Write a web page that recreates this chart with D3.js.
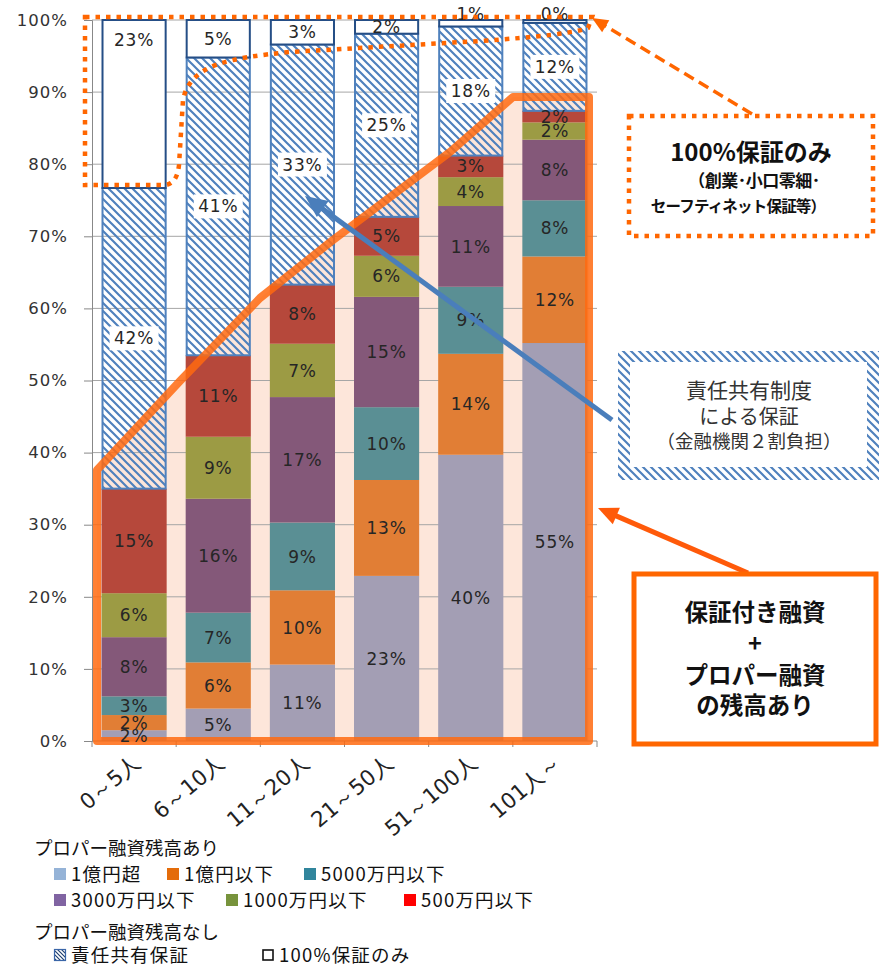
<!DOCTYPE html>
<html><head><meta charset="utf-8">
<script src="https://cdn.jsdelivr.net/npm/d3@7"></script>
<style>body{margin:0;background:#fff} svg{display:block}</style>
</head><body>
<svg id="c" width="879" height="967"></svg>
<script>
// ---------------- data ----------------
const categories = ["0～5人","6～10人","11～20人","21～50人","51～100人","101人～"];
const over100m        = [1.5, 4.5, 10.6, 22.9, 39.7, 55.2];   // 1億円超
const under100m       = [2.1, 6.4, 10.3, 13.3, 14.0, 12.0];   // 1億円以下
const under50m        = [2.6, 6.9, 9.4, 10.1, 9.3, 7.8];      // 5000万円以下
const under30m        = [8.2, 15.8, 17.4, 15.3, 11.2, 8.4];   // 3000万円以下
const under10m        = [6.1, 8.6, 7.4, 5.7, 4.0, 2.4];       // 1000万円以下
const under5m         = [14.5, 11.3, 8.2, 5.4, 3.0, 1.6];     // 500万円以下
const sharedGuarantee = [41.7, 41.3, 33.3, 25.4, 17.9, 12.2]; // 責任共有保証
const fullGuarantee   = [23.3, 5.2, 3.4, 1.9, 0.9, 0.4];      // 100%保証のみ
const yTicks = [0,10,20,30,40,50,60,70,80,90,100];
const seriesKeys  = ["over100m","under100m","under50m","under30m","under10m","under5m","shared","full"];
const seriesNames = ["1億円超","1億円以下","5000万円以下","3000万円以下","1000万円以下","500万円以下","責任共有保証","100%保証のみ"];
const legendGroup1 = "プロパー融資残高あり";
const legendGroup2 = "プロパー融資残高なし";

// ---------------- styles ----------------
const barFill    = ["#A39EB4","#E17E35","#5A8F94","#845879","#9C9B44","#B6483B"];
const legendFill = ["#95B3D7","#E46C0A","#31859C","#8064A2","#77933C","#FF0000"];
const hatchBlue = "#4F81BD";
const fullStroke = "#254E86";
const orange = "#FF6600";
const numFont = "'DejaVu Sans', Verdana, sans-serif";
const jpFont = "'Noto Sans CJK JP', 'Noto Sans', sans-serif";

const rows = categories.map((c,i)=>({
  cat:c, over100m:over100m[i], under100m:under100m[i], under50m:under50m[i],
  under30m:under30m[i], under10m:under10m[i], under5m:under5m[i],
  shared:sharedGuarantee[i], full:fullGuarantee[i]
}));

const svg = d3.select("#c");
const defs = svg.append("defs");
function hatch(id, color, size, w){
  const p = defs.append("pattern").attr("id",id).attr("patternUnits","userSpaceOnUse")
    .attr("width",size).attr("height",size);
  p.append("path").attr("d",`M0,0 L${size},${size} M${-size/2},${size/2} L${size/2},${size*1.5} M${size/2},${-size/2} L${size*1.5},${size/2}`)
    .attr("stroke",color).attr("stroke-width",w).attr("fill","none");
}
hatch("hatch", hatchBlue, 8, 2.2);
hatch("hatchSmall", "#1F3F70", 4, 1.2);

const x = d3.scaleBand().domain(categories).range([92,597]).paddingInner(0.226).paddingOuter(0.113);
const y = d3.scaleLinear().domain([0,100]).range([741,20]);

// ---------- big orange polygon (fill, behind) ----------
const poly = [[97,741],[97,470],[180,381],[260,298],[333,240],[450,152],[513,97],[589,97],[589,741]];
const polyLine = d3.line().curve(d3.curveLinearClosed);
svg.append("path").attr("d",polyLine(poly)).attr("fill","#FDE6DA");

// ---------- grid ----------
svg.append("g").selectAll("line").data(yTicks.filter(d=>d>0)).join("line")
  .attr("x1",92).attr("x2",597).attr("y1",d=>y(d)).attr("y2",d=>y(d))
  .attr("stroke","#A6A6A6").attr("stroke-width",1);

// ---------- bars ----------
const stack = d3.stack().keys(seriesKeys)(rows);
const barG = svg.append("g");
stack.forEach((s,si)=>{
  barG.selectAll(null).data(s).join("rect")
    .attr("x",d=>x(d.data.cat) + (si>=6?1:0))
    .attr("width",x.bandwidth() - (si>=6?2:0))
    .attr("y",d=>y(d[1]))
    .attr("height",d=>Math.max(0,y(d[0])-y(d[1])))
    .attr("fill", si<6 ? barFill[si] : (si===6 ? "url(#hatch)" : "#fff"))
    .attr("stroke", si<6 ? "none" : (si===6 ? hatchBlue : fullStroke))
    .attr("stroke-width", si<6 ? 0 : 2);
});

// ---------- axes ----------
const yAxis = svg.append("g").attr("transform","translate(92,0)")
  .call(d3.axisLeft(y).tickValues(yTicks).tickFormat(d=>d+"%").tickSize(8).tickPadding(16));
yAxis.select(".domain").attr("stroke","#888");
yAxis.selectAll(".tick line").attr("stroke","#888");
yAxis.selectAll("text").attr("font-family",numFont).attr("font-size",16.5)
  .attr("fill","#333").attr("letter-spacing","1px");

svg.append("line").attr("x1",92).attr("x2",597).attr("y1",741).attr("y2",741).attr("stroke","#888");
const bounds = d3.range(categories.length+1).map(i=>92 + i*x.step());
svg.append("g").selectAll("line").data(bounds).join("line")
  .attr("x1",d=>d).attr("x2",d=>d).attr("y1",741).attr("y2",747).attr("stroke","#888");
svg.append("g").selectAll("text").data(categories).join("text")
  .attr("transform",d=>`translate(${x(d)+x.bandwidth()/2+8},${765}) rotate(-40)`)
  .attr("text-anchor","end").attr("font-family",numFont).attr("font-size",21.5)
  .attr("fill","#222").text(d=>d);

// ---------- polygon stroke ----------
svg.append("path").attr("d",polyLine(poly)).attr("fill","none")
  .attr("stroke","#FF6A10").attr("stroke-opacity",0.85).attr("stroke-width",8)
  .attr("stroke-linejoin","round");

// ---------- data labels ----------
const labG = svg.append("g");
stack.forEach((s,si)=>{
  s.forEach(d=>{
    const v = d[1]-d[0];
    const cx = x(d.data.cat)+x.bandwidth()/2;
    const h = y(d[0])-y(d[1]);
    let cy = h < 8 ? y(d[1]) - 6 : (y(d[0])+y(d[1]))/2;
    if (si===7) cy = Math.min(cy, y(100)+20);
    const t = Math.round(v)+"%";
    if (si===6){
      const tw = t.length*11 + 16;
      labG.append("rect").attr("x",cx-tw/2).attr("y",cy-12).attr("width",tw).attr("height",24)
        .attr("fill","#fff");
    }
    labG.append("text").attr("x",cx).attr("y",cy).attr("dy","0.36em")
      .attr("text-anchor","middle").attr("font-family",numFont).attr("font-size",17)
      .attr("letter-spacing","0.8px")
      .attr("fill","#262626").text(t);
  });
});

// ---------- annotations ----------
const ann = svg.append("g");
// dotted region for 100% only
ann.append("path")
  .attr("d","M85,17 L592,17 L588,28 Q570,35 480,41 L290,52 C230,58 190,64 183,100 L179,165 Q177,184 165,185 L85,185 Z")
  .attr("fill","none").attr("stroke",orange).attr("stroke-width",4.5)
  .attr("stroke-dasharray","4.5 6");

function arrow(x1,y1,x2,y2,color,w,hl,hw,dash){
  const a = Math.atan2(y2-y1,x2-x1);
  const bx = x2 - Math.cos(a)*hl*0.8, by = y2 - Math.sin(a)*hl*0.8;
  const l = ann.append("line").attr("x1",x1).attr("y1",y1).attr("x2",bx).attr("y2",by)
    .attr("stroke",color).attr("stroke-width",w);
  if (dash) l.attr("stroke-dasharray",dash);
  const px = Math.cos(a+Math.PI/2), py = Math.sin(a+Math.PI/2);
  const hx = x2 - Math.cos(a)*hl, hy = y2 - Math.sin(a)*hl;
  ann.append("path").attr("d",`M${x2},${y2} L${hx+px*hw/2},${hy+py*hw/2} L${hx-px*hw/2},${hy-py*hw/2} Z`)
    .attr("fill",color);
}
arrow(752,114,592,18,orange,3.5,16,14,"11 6");
arrow(612,420,305,196,"#4A7EBB",5,22,20);
arrow(748,573,598,508,"#FF5A0A",5,20,18);

// box: 100%保証のみ
ann.append("rect").attr("x",629).attr("y",116).attr("width",244).attr("height",120)
  .attr("fill","#fff").attr("stroke",orange).attr("stroke-width",4.5).attr("stroke-dasharray","4.5 6");
ann.append("text").attr("x",751).attr("y",152).attr("dy","0.36em").attr("text-anchor","middle")
  .attr("font-family",jpFont).attr("font-weight","bold").attr("font-size",24).attr("fill","#111").text("100%保証のみ");
ann.append("text").attr("x",754).attr("y",181).attr("dy","0.36em").attr("text-anchor","middle")
  .attr("font-family",jpFont).attr("font-weight","bold").attr("font-size",17).attr("letter-spacing","-0.5px").attr("fill","#111").text("（創業･小口零細･");
ann.append("text").attr("x",738).attr("y",206).attr("dy","0.36em").attr("text-anchor","middle")
  .attr("font-family",jpFont).attr("font-weight","bold").attr("font-size",15.5).attr("letter-spacing","-0.8px").attr("fill","#111").text("セーフティネット保証等）");

// box: 責任共有制度
ann.append("rect").attr("x",618).attr("y",351).attr("width",261).attr("height",129).attr("fill","url(#hatch)");
ann.append("rect").attr("x",630).attr("y",362).attr("width",237).attr("height",105).attr("fill","#fff");
[["責任共有制度",390,21],["による保証",417,20],["（金融機関２割負担）",441,18.5]].forEach(([t,yy,fs])=>{
  ann.append("text").attr("x",749).attr("y",yy).attr("dy","0.36em").attr("text-anchor","middle")
    .attr("font-family",jpFont).attr("font-size",fs).attr("fill","#333").text(t);
});

// box: 保証付き融資 + プロパー融資 の残高あり
ann.append("rect").attr("x",634).attr("y",574).attr("width",242).attr("height",170)
  .attr("fill","#fff").attr("stroke",orange).attr("stroke-width",5);
[["保証付き融資",613],["+",644],["プロパー融資",676],["の残高あり",706]].forEach(([t,yy])=>{
  ann.append("text").attr("x",755).attr("y",yy).attr("dy","0.36em").attr("text-anchor","middle")
    .attr("font-family",jpFont).attr("font-weight","bold").attr("font-size",23.5).attr("fill","#111").text(t);
});

// ---------- legend ----------
const leg = svg.append("g").attr("font-family",jpFont).attr("font-size",18.5).attr("fill","#111");
leg.append("text").attr("x",34).attr("y",848).attr("dy","0.36em").text(legendGroup1);
leg.append("text").attr("x",34).attr("y",932).attr("dy","0.36em").text(legendGroup2);
const legPos = [[54,874],[167,874],[304,874],[54,900],[226,900],[404,900],[54,955],[262,955]];
seriesNames.forEach((n,i)=>{
  const [lx,ly] = legPos[i];
  const r = leg.append("rect").attr("x",lx).attr("y",ly-6).attr("width",12).attr("height",12);
  if (i<6) r.attr("fill",legendFill[i]);
  else if (i===6) r.attr("fill","url(#hatchSmall)").attr("stroke","#3A66A8").attr("stroke-width",1.2)
      .attr("x",lx+0.5).attr("y",ly-5.5).attr("width",11).attr("height",11);
  else r.attr("fill","#fff").attr("stroke","#111").attr("stroke-width",1.6)
      .attr("x",lx+1).attr("y",ly-5).attr("width",10).attr("height",10);
  leg.append("text").attr("x",lx+17).attr("y",ly).attr("dy","0.36em")
    .attr("letter-spacing","1.2px").text(n);
});
</script>
</body></html>
